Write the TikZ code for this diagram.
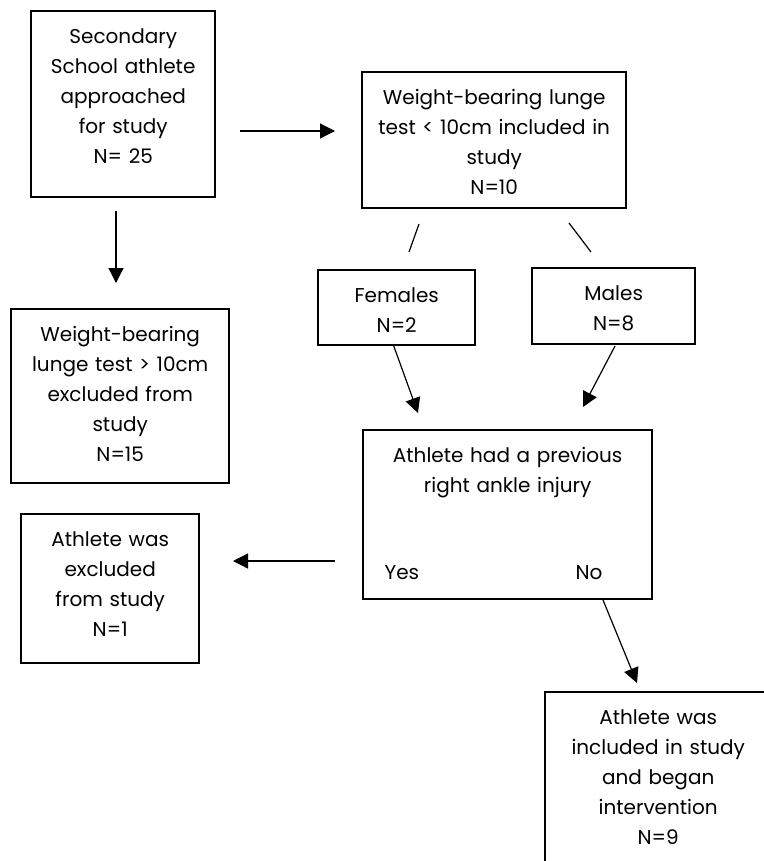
\documentclass[tikz,border=0pt]{standalone}
\usepackage{fontspec}
\setmainfont{Poppins}
\usepackage{tikz}
\usetikzlibrary{arrows.meta}
\tikzset{box/.style={draw,line width=1.2pt,align=center,inner sep=0pt,text height=16pt,anchor=north west,font=\fontsize{10}{15}\selectfont},
lbl/.style={inner sep=0pt,font=\fontsize{10}{15}\selectfont}}
\begin{document}
\begin{tikzpicture}[x=0.5pt,y=-0.5pt,>={Triangle[length=7.5pt,width=7.5pt]},line width=0.6pt]
\clip(0,0)rectangle(764,861);
\node[box,text width=92pt,text depth=77pt](start)at(30,10){Secondary\\School athlete\\approached\\for study\\N= 25};
\node[box,text width=132pt,text depth=52pt](incl)at(361,71){Weight-bearing lunge\\test < 10cm included in\\study\\N=10};
\node[box,text width=109pt,text depth=71pt](excl)at(10,308){Weight-bearing\\lunge test > 10cm\\excluded from\\study\\N=15};
\node[box,text width=78.5pt,text depth=21.5pt](fem)at(317,269){Females\\N=2};
\node[box,text width=81.5pt,text depth=22pt](male)at(531,267){Males\\N=8};
\node[box,text width=144.5pt,text depth=68.5pt](injury)at(362,429){Athlete had a previous\\right ankle injury};
\node[lbl,anchor=base west](yes)at(384,579){Yes};
\node[lbl,anchor=base east](no)at(603,579){No};
\node[box,text width=89pt,text depth=58.5pt](out)at(20,513){Athlete was\\excluded\\from study\\N=1};
\node[box,text width=113pt,text depth=72pt](final)at(544,691){Athlete was\\included in study\\and began\\intervention\\N=9};
\path(240,131)coordinate(r0)(335,131)coordinate(r1)
(116,211)coordinate(d0)(116,283)coordinate(d1)
(419,224)coordinate(f0)(409,252)coordinate(f1)
(569,223)coordinate(m0)(591,252)coordinate(m1)
(393,344)coordinate(f2)(418,413)coordinate(f3)
(615,346)coordinate(m2)(583,407)coordinate(m3)
(335,561)coordinate(y0)(233,561)coordinate(y1)
(603,600)coordinate(n0)(637,683)coordinate(n1);
\draw[->](r0)--(r1);
\draw[->](d0)--(d1);
\draw(f0)--(f1)(m0)--(m1);
\draw[->](f2)--(f3);
\draw[->](m2)--(m3);
\draw[->](y0)--(y1);
\draw[->](n0)--(n1);
\end{tikzpicture}
\end{document}
